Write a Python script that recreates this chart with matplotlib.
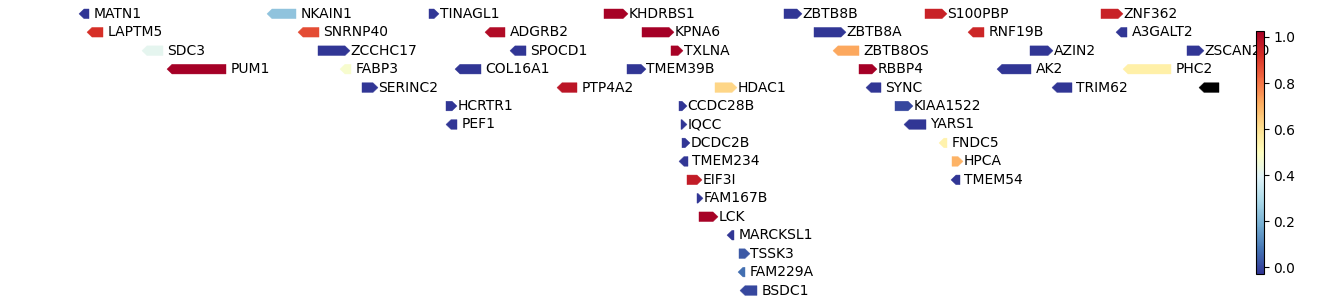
import numpy as np
import matplotlib
matplotlib.use("Agg")
import matplotlib.pyplot as plt
from matplotlib.patches import Polygon
from matplotlib.colors import Normalize

# ---- data (positions, arbitrary genomic-like units) ----
genes = ["MATN1", "NKAIN1", "TINAGL1", "KHDRBS1", "ZBTB8B", "S100PBP", "ZNF362",
         "LAPTM5", "SNRNP40", "ADGRB2", "KPNA6", "ZBTB8A", "RNF19B", "A3GALT2",
         "SDC3", "ZCCHC17", "SPOCD1", "TXLNA", "ZBTB8OS", "AZIN2", "ZSCAN20",
         "PUM1", "FABP3", "COL16A1", "TMEM39B", "RBBP4", "AK2", "PHC2",
         "SERINC2", "PTP4A2", "HDAC1", "SYNC", "TRIM62", "",
         "HCRTR1", "CCDC28B", "KIAA1522",
         "PEF1", "IQCC", "YARS1",
         "DCDC2B", "FNDC5",
         "TMEM234", "HPCA",
         "EIF3I", "TMEM54",
         "FAM167B", "LCK", "MARCKSL1", "TSSK3", "FAM229A", "BSDC1"]
starts = [79, 267, 429, 604, 784, 925, 1101,
          87, 298, 485, 642, 814, 968, 1116,
          142, 318, 510, 671, 833, 1030, 1187,
          167, 340, 455, 627, 859, 997, 1123,
          362, 557, 715, 866, 1052, 1199,
          446, 679, 895,
          446, 681, 904,
          682, 939,
          679, 952,
          687, 951,
          697, 699, 727, 739, 738, 740]
ends = [89, 296, 439, 628, 802, 947, 1123,
        103, 319, 505, 674, 846, 984, 1127,
        163, 350, 526, 683, 859, 1053, 1204,
        226, 351, 481, 646, 877, 1031, 1171,
        378, 577, 737, 881, 1072, 1219,
        457, 687, 913,
        457, 687, 926,
        690, 947,
        688, 963,
        702, 960,
        703, 718, 734, 750, 745, 757]
strands = ["-", "-", "+", "+", "+", "+", "+",
           "-", "-", "-", "+", "+", "-", "-",
           "-", "+", "-", "+", "-", "+", "+",
           "-", "-", "-", "+", "+", "-", "-",
           "+", "-", "+", "-", "-", "-",
           "+", "+", "+",
           "-", "+", "-",
           "+", "-",
           "-", "+",
           "+", "-",
           "+", "+", "-", "+", "-", "-"]
rows = [0, 0, 0, 0, 0, 0, 0,
        1, 1, 1, 1, 1, 1, 1,
        2, 2, 2, 2, 2, 2, 2,
        3, 3, 3, 3, 3, 3, 3,
        4, 4, 4, 4, 4, 4,
        5, 5, 5,
        6, 6, 6,
        7, 7,
        8, 8,
        9, 9,
        10, 11, 12, 13, 14, 15]
values = [-0.03, 0.235, -0.03, 1.02, -0.03, 0.95, 0.95,
          0.92, 0.87, 1.0, 1.026, -0.03, 0.94, -0.03,
          0.41, -0.03, -0.03, 1.02, 0.72, -0.03, -0.03,
          1.026, 0.47, -0.03, -0.03, 1.026, -0.03, 0.55,
          -0.03, 0.98, 0.625, -0.03, -0.03, np.nan,
          -0.03, -0.03, 0.0,
          -0.03, -0.03, -0.03,
          -0.03, 0.54,
          -0.03, 0.70,
          0.96, -0.03,
          -0.03, 1.02, -0.03, 0.03, 0.065, 0.0]

vmin, vmax = -0.03, 1.026

W, H = 1338, 305
fig = plt.figure(figsize=(W / 100, H / 100), dpi=100)
ax = fig.add_axes([0, 0, 1, 1])
row_px = 18.45
top_px = 13.8
ax.set_xlim(0, W)
ax.set_ylim((H - top_px) / row_px, -top_px / row_px)
ax.axis("off")

cmap = plt.get_cmap("RdYlBu_r")
norm = Normalize(vmin=vmin, vmax=vmax)

head = 5.0
half_h = 4.8 / row_px

for g, s, e, st, r, v in zip(genes, starts, ends, strands, rows, values):
    color = "black" if np.isnan(v) else cmap(norm(v))
    hl = min(head, e - s)
    if st == "+":
        pts = [(s, r - half_h), (e - hl, r - half_h), (e, r), (e - hl, r + half_h), (s, r + half_h)]
        tx = e + 0.5
    else:
        pts = [(e, r - half_h), (s + hl, r - half_h), (s, r), (s + hl, r + half_h), (e, r + half_h)]
        tx = e + 4.5
    ax.add_patch(Polygon(pts, closed=True, facecolor=color, edgecolor=color, lw=0.3))
    if g:
        ax.text(tx, r, g, va="center", ha="left", fontsize=10, color="black")

cax = fig.add_axes([1256 / W, (H - 274) / H, 7.5 / W, 243 / H])
sm = matplotlib.cm.ScalarMappable(norm=norm, cmap=cmap)
cb = fig.colorbar(sm, cax=cax, ticks=[0.0, 0.2, 0.4, 0.6, 0.8, 1.0])
cb.ax.tick_params(labelsize=10)
cb.outline.set_linewidth(0.8)

fig.savefig("out.png", dpi=100)
